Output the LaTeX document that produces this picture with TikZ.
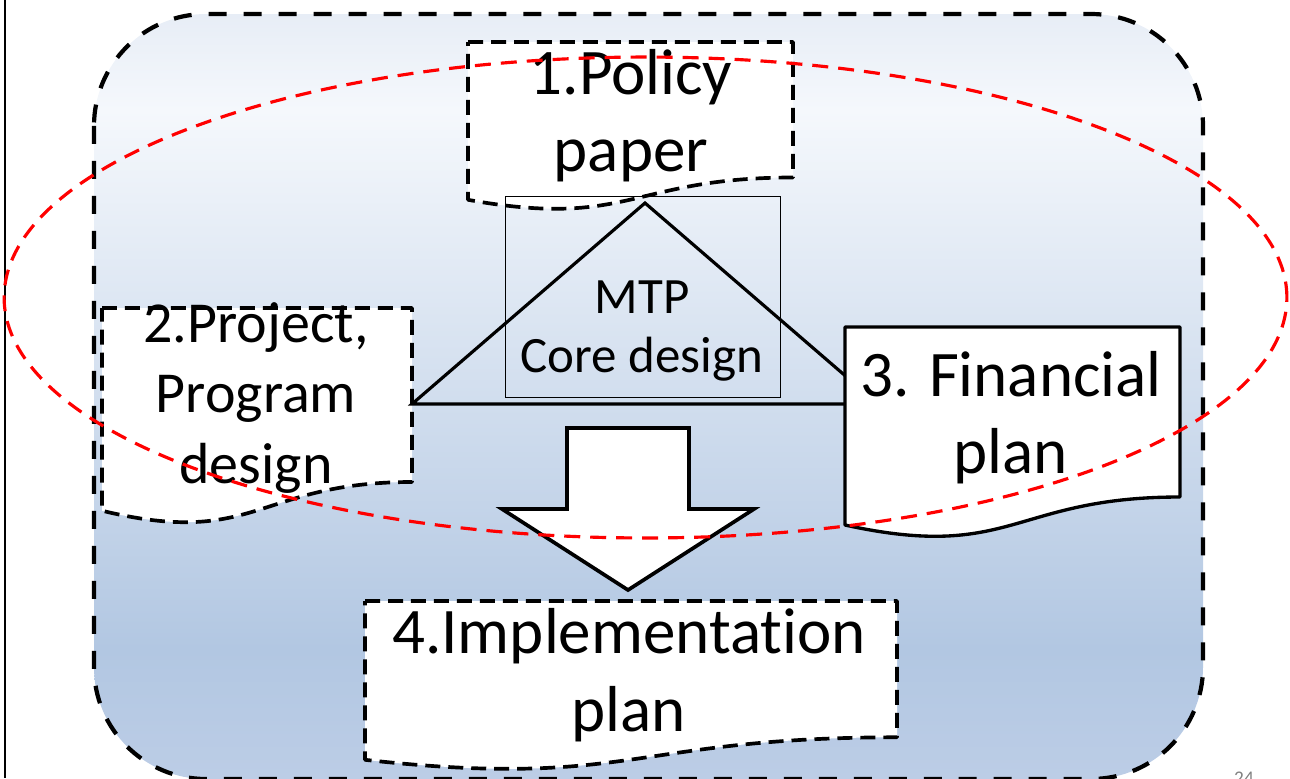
\documentclass[tikz,border=0pt]{standalone}
\usepackage{fontspec}
\setmainfont[Ligatures=NoCommon]{Carlito}
\definecolor{bgtop}{HTML}{E7EDF6}
\definecolor{bglight}{HTML}{F5F8FC}
\definecolor{bgblue}{HTML}{B2C7E2}
\definecolor{bgbot}{HTML}{BCCDE6}
\definecolor{ringred}{HTML}{FF0000}
\pgfdeclareverticalshading{slidebg}{100bp}{color(0bp)=(bgbot); color(25bp)=(bgbot); color(33.5bp)=(bgblue); color(68.75bp)=(bglight); color(75bp)=(bgtop); color(100bp)=(bgtop)}
\tikzset{
  docbox/.style={draw, fill=white, line width=1.9pt, line join=round},
  docdashed/.style={docbox, line width=2.1pt, dash pattern=on 0.3cm off 0.16cm},
  bigtext/.style={align=center, font=\fontsize{37}{44}\selectfont},
  edgeline/.style={line width=1.8pt, line join=miter},
}
\begin{document}
\begin{tikzpicture}[x=0.02cm, y=-0.02cm]
  \useasboundingbox (0,0) rectangle (1290,778);
  \draw[line width=1.1pt] (5,0) -- (5,778);
  % frame
  \shadedraw[shading=slidebg, line width=2.4pt, dash pattern=on 0.36cm off 0.34cm, rounded corners=2.24cm] (94,14) rectangle (1203,779);

  % 1
  \draw[docdashed] (468,42) -- (793,42) -- (793,177.5) .. controls (630.5,177.5) and (630.5,229) .. (468,199.8) -- cycle;
  \node (policy) [bigtext] at (631,116) {1.Policy\\paper};

  % 2
  \draw[docdashed] (102,308) -- (412,308) -- (412,482) .. controls (257,482) and (257,548.2) .. (102,510.7) -- cycle;
  \node (project) [align=center, font=\fontsize{33}{40}\selectfont] at (256,398) {2.Project,\\Program\\design};

  % core
  \coordinate (tl) at (412,404);
  \coordinate (apex) at (645,203);
  \coordinate (tr) at (878,404);
  \draw[edgeline] (tl) -- (apex) -- (tr) -- cycle;
  \draw[line width=0.5pt] (505,196) rectangle (780,397);
  \node (mtp) [align=center, font=\fontsize{29}{34}\selectfont] at (642,331) {MTP\\Core design};

  % 3
  \draw[docbox] (845,327) -- (1180,327) -- (1180,497) .. controls (1012.5,497) and (1012.5,561.7) .. (845,525) -- cycle;
  \node (finance) [bigtext] at (1011,418) {3. Financial\\plan};

  % arrow
  \draw[docbox, line width=2.1pt, line join=miter] (567,428) -- (689,428) -- (689,509) -- (754,509) -- (628,590) -- (502,509) -- (567,509) -- cycle;

  % 4
  \draw[docdashed] (365,601) -- (897,601) -- (897,737.3) .. controls (631,737.3) and (631,789.2) .. (365,759.8) -- cycle;
  \node (impl) [bigtext] at (629,675) {4.Implementation\\plan};

  \draw[ringred, line width=1.8pt, dash pattern=on 0.32cm off 0.2cm] (645.5,297.5) ellipse [x radius=12.83cm, y radius=4.81cm];

  \node (pagenum) [anchor=north, inner sep=0, text=gray, font=\fontsize{11}{13}\selectfont] at (1244,772) {24};
\end{tikzpicture}
\end{document}
